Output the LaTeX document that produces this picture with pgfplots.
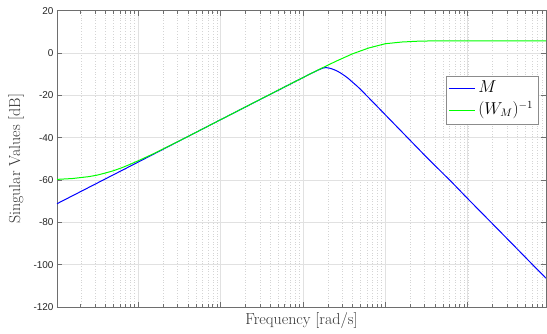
\documentclass[border=0pt]{standalone}
\usepackage{fontspec}
\usepackage{pgfplots}
\pgfplotsset{compat=1.18}
\newfontfamily\tickfont{Liberation Sans}
\definecolor{axgray}{RGB}{110,110,110}
\definecolor{gridgray}{RGB}{225,225,225}
\definecolor{mingray}{RGB}{212,212,212}
\begin{document}
\begin{tikzpicture}
\path[use as bounding box] (-57bp,-27bp) rectangle (490bp,307bp);
\begin{axis}[
  at={(0,0)}, anchor=south west,
  scale only axis, width=489bp, height=296.3bp,
  xmode=log, xmin=1.03e-4, xmax=89.3,
  ymin=-120, ymax=20,
  ytick={-120,-100,-80,-60,-40,-20,0,20},
  yticklabels={-120,-100,-80,-60,-40,-20,0,20},
  xticklabels={},
  grid=both,
  major grid style={gridgray, line width=0.5bp},
  minor grid style={mingray, dash pattern=on 0.5bp off 2.2bp, line width=0.3bp},
  minor y tick num=0,
  axis line style={axgray, line width=0.6bp},
  tick style={axgray, line width=0.5bp},
  major tick length=5bp, minor tick length=3bp,
  tick align=inside,
  ticklabel style={font=\tickfont\fontsize{10}{12}\selectfont, text=black!85},
  xlabel={Frequency [rad/s]},
  ylabel={Singular Values [dB]},
  label style={font=\fontsize{16}{19}\selectfont, text=black!80},
  xlabel style={at={(axis description cs:0.5,-0.047)}, anchor=center},
  ylabel style={at={(axis description cs:-0.0838,0.5)}, anchor=center},
  legend style={at={(axis description cs:0.9843,0.7806)}, anchor=north east,
    draw=black!45, fill=white, font=\fontsize{16}{19}\selectfont,
    inner sep=2bp, row sep=0bp,
    nodes={inner sep=3bp, text height=11.5bp, text depth=4.5bp}},
  legend cell align=left,
  legend image code/.code={\draw[#1] (0bp,0bp) -- (26bp,0bp);},
]
\addplot[blue, line width=1.0bp] coordinates {
(1.03e-4,-71.2) (1e-3,-51.5) (1e-2,-31.5) (0.1,-11.6) (0.125,-9.7)
(0.15,-8.2) (0.165,-7.5) (0.175,-7.1) (0.184,-6.95) (0.195,-6.95)
(0.21,-7.15) (0.225,-7.5) (0.25,-8.2) (0.28,-9.2) (0.32,-10.7)
(0.355,-12.0) (0.4,-13.8) (0.45,-15.5) (0.5,-17.2) (0.575,-19.6)
(0.8,-25.3) (1,-29.2) (1.82,-39.6) (3.16,-49.2) (6.4,-61.0)
(10,-68.8) (21.6,-82.0) (40,-92.6) (62.1,-100.2) (89.3,-106.4)
};
\addlegendentry{$M$}
\addplot[green, line width=1.0bp] coordinates {
(1.03e-4,-59.7) (1.585e-4,-59.3) (2.51e-4,-58.4) (3.16e-4,-57.7)
(3.98e-4,-56.7) (5.01e-4,-55.6) (6.31e-4,-54.2) (7.94e-4,-52.6)
(1e-3,-50.9) (1.585e-3,-47.3) (2.51e-3,-43.4) (3.98e-3,-39.5)
(1e-2,-31.5) (3.16e-2,-21.5) (0.1,-11.6) (0.158,-7.7) (0.251,-3.9)
(0.398,-0.4) (0.631,2.4) (1,4.4) (1.585,5.2) (2.51,5.6) (3.98,5.75)
(10,5.8) (89.3,5.8)
};
\addlegendentry{$(W_M)^{-1}$}
\end{axis}
\end{tikzpicture}
\end{document}
